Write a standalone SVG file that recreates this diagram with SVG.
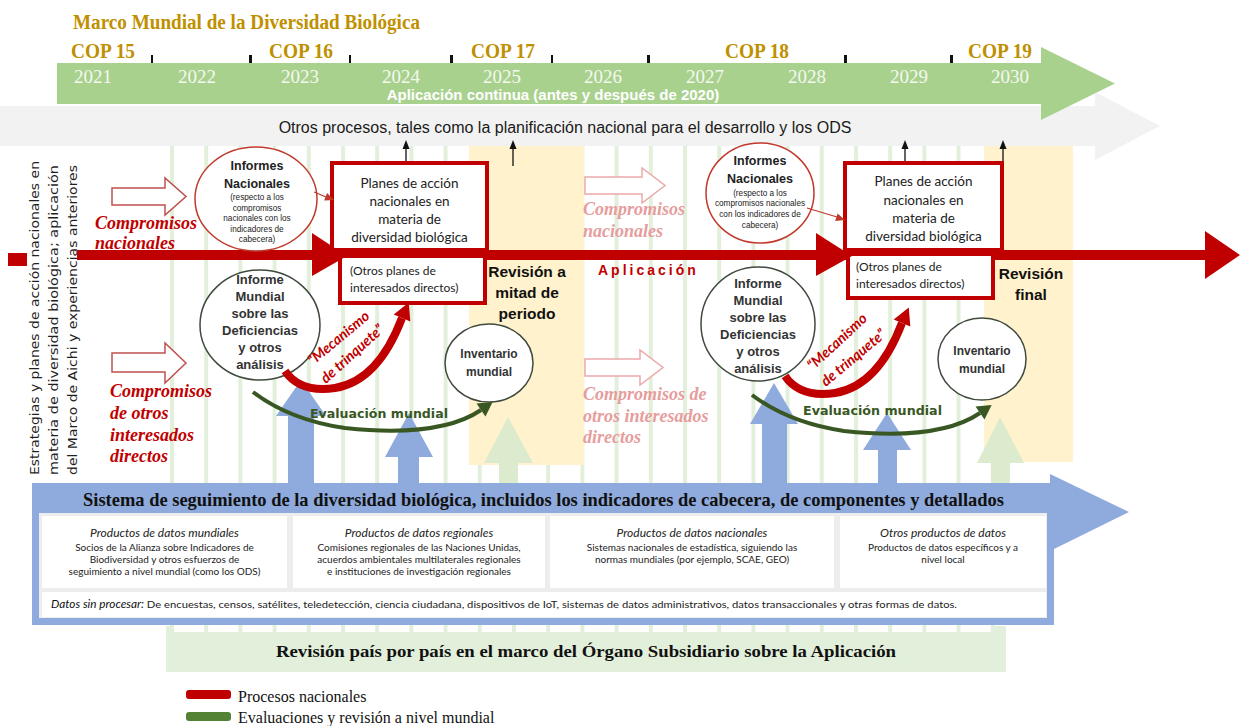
<svg xmlns="http://www.w3.org/2000/svg" width="1241" height="726" viewBox="0 0 1241 726">
<defs>
<style>
.serif{font-family:"Liberation Serif","Times New Roman",serif}
.sans{font-family:"Liberation Sans",Arial,sans-serif}
.gold{fill:#BF9000}
.cop{font-family:"Liberation Serif","Times New Roman",serif;font-weight:bold;font-size:21px;fill:#BF9000}
.year{font-family:"Liberation Serif","Times New Roman",serif;font-size:19px;fill:#F4F8F0;text-anchor:middle}
.tick{fill:#111}
.cmp{font-family:"Liberation Serif","Times New Roman",serif;font-size:18px;font-style:italic;font-weight:bold}
.red{fill:#C00000}
.pink{fill:#E69D9D}
.hollow{fill:#fff;stroke:#C0504D;stroke-width:1.5}
.hollowp{fill:#fff;stroke:#EBA9A9;stroke-width:1.5}
.circR{fill:#fff;stroke:#C0392B;stroke-width:1.5}
.circG{fill:#fff;stroke:#3F4A3C;stroke-width:1.5}
.ctitle{font-family:"Liberation Sans",Arial,sans-serif;font-weight:bold;font-size:12.5px;fill:#222;text-anchor:middle}
.csmall{font-family:"Liberation Sans",Arial,sans-serif;font-size:8.2px;fill:#222;text-anchor:middle}
.cgm{font-family:"Liberation Sans",Arial,sans-serif;font-weight:bold;font-size:13px;fill:#333;text-anchor:middle}
.inv{font-family:"Liberation Sans",Arial,sans-serif;font-weight:bold;font-size:12px;fill:#333;text-anchor:middle}
.box{fill:#fff;stroke:#C00000;stroke-width:4}
.ptxt{font-family:Lato,"Liberation Sans",sans-serif;font-size:13.5px;fill:#222;text-anchor:middle}
.otxt{font-family:Lato,"Liberation Sans",sans-serif;font-size:12px;fill:#222}
.rev{font-family:"Liberation Sans",Arial,sans-serif;font-weight:bold;font-size:15.5px;fill:#111;text-anchor:middle}
.mec{font-family:Lato,"Liberation Sans",sans-serif;font-weight:bold;font-style:italic;font-size:14.5px;fill:#C00000}
.eval{font-family:"DejaVu Sans",Verdana,sans-serif;font-weight:bold;font-size:11.5px;fill:#385723}
.blue{fill:#8FAADC}
.lgreen{fill:#DCEACE}
.dtitle{font-family:Lato,"Liberation Sans",sans-serif;font-style:italic;font-size:12px;fill:#222;text-anchor:middle}
.dtxt{font-family:Lato,"Liberation Sans",sans-serif;font-size:10px;fill:#222;text-anchor:middle}
.vert{font-family:"DejaVu Sans",Verdana,sans-serif;font-size:13px;fill:#1F1F1F}
.blk{stroke:#111;stroke-width:1.3;fill:none}
</style>
<pattern id="stripes" x="170" y="0" width="34.2" height="20" patternUnits="userSpaceOnUse"><rect width="4" height="20" fill="#E2EFDA"/></pattern>
</defs>

<rect width="1241" height="726" fill="#fff"/>

<g id="background">
<rect x="166" y="626" width="840" height="46" fill="#E2EFDA"/>
<rect x="174" y="626" width="817" height="6" fill="#fff"/>
<rect x="170" y="146" width="826" height="486" fill="url(#stripes)"/>
<rect x="469" y="146" width="115" height="319" fill="#FFF2CC"/>
<rect x="984" y="146" width="89" height="316" fill="#FFF2CC"/>
</g>

<g id="timeline">
<polygon points="0,106 1095,106 1095,92 1160,126 1095,160 1095,146 0,146" fill="#F2F2F2"/>
<polygon points="57,63 1041,63 1041,47 1115,83.5 1041,120 1041,104 57,104" fill="#A9D18E"/>
<text x="73" y="29" class="serif gold" font-size="20" font-weight="bold" textLength="347" lengthAdjust="spacingAndGlyphs">Marco Mundial de la Diversidad Biológica</text>
<text x="71" y="58" class="cop" textLength="64" lengthAdjust="spacingAndGlyphs">COP 15</text>
<text x="269" y="58" class="cop" textLength="64" lengthAdjust="spacingAndGlyphs">COP 16</text>
<text x="471" y="58" class="cop" textLength="64" lengthAdjust="spacingAndGlyphs">COP 17</text>
<text x="725" y="58" class="cop" textLength="64" lengthAdjust="spacingAndGlyphs">COP 18</text>
<text x="968" y="58" class="cop" textLength="64" lengthAdjust="spacingAndGlyphs">COP 19</text>
<rect class="tick" x="151" y="55" width="2" height="8"/>
<rect class="tick" x="249" y="55" width="3" height="8"/>
<rect class="tick" x="349" y="55" width="2" height="8"/>
<rect class="tick" x="450" y="55" width="3" height="8"/>
<rect class="tick" x="551" y="55" width="2" height="8"/>
<rect class="tick" x="647" y="55" width="3" height="8"/>
<rect class="tick" x="844" y="55" width="3" height="8"/>
<rect class="tick" x="950" y="55" width="3" height="8"/>
<text class="year" x="93" y="83">2021</text>
<text class="year" x="197" y="83">2022</text>
<text class="year" x="300" y="83">2023</text>
<text class="year" x="401" y="83">2024</text>
<text class="year" x="502" y="83">2025</text>
<text class="year" x="603" y="83">2026</text>
<text class="year" x="705" y="83">2027</text>
<text class="year" x="807" y="83">2028</text>
<text class="year" x="909" y="83">2029</text>
<text class="year" x="1010" y="83">2030</text>
<text x="553" y="100" class="sans" font-size="15" font-weight="bold" fill="#fff" text-anchor="middle">Aplicación continua (antes y después de 2020)</text>
<text x="565" y="133" class="sans" font-size="16" fill="#1a1a1a" text-anchor="middle">Otros procesos, tales como la planificación nacional para el desarrollo y los ODS</text>
</g>

<g id="left-label">
<rect x="8" y="253" width="19" height="13" fill="#C00000"/>
<text class="vert" transform="translate(39 475) rotate(-90)" textLength="314" lengthAdjust="spacingAndGlyphs">Estrategias y planes de acción nacionales en</text>
<text class="vert" transform="translate(58 475) rotate(-90)" textLength="310" lengthAdjust="spacingAndGlyphs">materia de diversidad biológica; aplicación</text>
<text class="vert" transform="translate(77 475) rotate(-90)" textLength="310" lengthAdjust="spacingAndGlyphs">del Marco de Aichi y experiencias anteriores</text>
</g>

<g id="connectors">
<line class="blk" x1="406" y1="163" x2="406" y2="148"/><polygon points="402.5,149 406,140 409.5,149" fill="#111"/>
<line class="blk" x1="513" y1="166" x2="513" y2="148"/><polygon points="509.5,149 513,140 516.5,149" fill="#111"/>
<line class="blk" x1="905" y1="163" x2="905" y2="148"/><polygon points="901.5,149 905,140 908.5,149" fill="#111"/>
<line class="blk" x1="1003" y1="163" x2="1003" y2="148"/><polygon points="999.5,149 1003,140 1006.5,149" fill="#111"/>
<rect x="77" y="250" width="1130" height="10" fill="#C00000"/>
<polygon points="1205,231 1240,255 1205,279" fill="#C00000"/>
<path class="hollow" d="M112,188 H165 V178 L186,196.5 L165,215 V205 H112 Z"/>
<path class="hollow" d="M112,353 H165 V343 L186,363 L165,383 V372 H112 Z"/>
<path class="hollowp" d="M585,177 H642 V168 L665,185.5 L642,203 V194 H585 Z"/>
<path class="hollowp" d="M585,359 H640 V350 L663,367.5 L640,385 V376 H585 Z"/>
<polygon class="blue" points="288,483 288,416 276,416 301,380 326,416 314,416 314,483"/>
<polygon class="blue" points="398,483 398,457 385,457 409,413 433,457 419,457 419,483"/>
<polygon class="lgreen" points="499,483 499,463 484,463 508,417 533,463 518,463 518,483"/>
<polygon class="blue" points="762,483 762,424 750,424 774,383 798,424 787,424 787,483"/>
<polygon class="blue" points="878,483 878,450 863,450 887,413 911,450 897,450 897,483"/>
<polygon class="lgreen" points="991,483 991,463 977,463 1000,417 1024,463 1010,463 1010,483"/>
</g>

<g id="commitments">
<text class="cmp red" x="95" y="229">Compromisos</text>
<text class="cmp red" x="95" y="249">nacionales</text>
<text class="cmp red" x="110" y="397">Compromisos</text>
<text class="cmp red" x="110" y="419">de otros</text>
<text class="cmp red" x="110" y="441">interesados</text>
<text class="cmp red" x="110" y="462">directos</text>
<text class="cmp pink" x="583" y="215">Compromisos</text>
<text class="cmp pink" x="583" y="237">nacionales</text>
<text class="cmp pink" x="583" y="400">Compromisos de</text>
<text class="cmp pink" x="583" y="422">otros interesados</text>
<text class="cmp pink" x="583" y="443">directos</text>
<text x="598" y="275" class="sans" font-size="14" font-weight="bold" fill="#C00000" letter-spacing="3">Aplicación</text>
</g>

<g id="informes-nacionales-1">
<ellipse class="circR" cx="256" cy="199" rx="61" ry="52"/>
<text class="ctitle" x="257" y="170">Informes</text>
<text class="ctitle" x="257" y="188">Nacionales</text>
<text class="csmall" x="257" y="200">(respecto a los</text>
<text class="csmall" x="257" y="210.5">compromisos</text>
<text class="csmall" x="257" y="221">nacionales con los</text>
<text class="csmall" x="257" y="231.5">indicadores de</text>
<text class="csmall" x="257" y="242">cabecera)</text>
</g>

<g id="informes-nacionales-2">
<ellipse class="circR" cx="760" cy="193" rx="54" ry="50"/>
<text class="ctitle" x="760" y="165">Informes</text>
<text class="ctitle" x="760" y="183">Nacionales</text>
<text class="csmall" x="760" y="196">(respecto a los</text>
<text class="csmall" x="760" y="206">compromisos nacionales</text>
<text class="csmall" x="760" y="217">con los indicadores de</text>
<text class="csmall" x="760" y="228">cabecera)</text>
</g>

<g id="informe-mundial-1">
<ellipse class="circG" cx="260" cy="325" rx="60" ry="55"/>
<text class="cgm" x="260" y="284">Informe</text>
<text class="cgm" x="260" y="301">Mundial</text>
<text class="cgm" x="260" y="318">sobre las</text>
<text class="cgm" x="260" y="335">Deficiencias</text>
<text class="cgm" x="260" y="352">y otros</text>
<text class="cgm" x="260" y="369">análisis</text>
</g>

<g id="informe-mundial-2">
<ellipse class="circG" cx="758" cy="324" rx="57" ry="57"/>
<text class="cgm" x="758" y="288">Informe</text>
<text class="cgm" x="758" y="305">Mundial</text>
<text class="cgm" x="758" y="322">sobre las</text>
<text class="cgm" x="758" y="339">Deficiencias</text>
<text class="cgm" x="758" y="356">y otros</text>
<text class="cgm" x="758" y="373">análisis</text>
</g>

<g id="inventario-1">
<ellipse class="circG" cx="489" cy="363" rx="44" ry="39"/>
<text class="inv" x="489" y="358">Inventario</text>
<text class="inv" x="489" y="376">mundial</text>
</g>

<g id="inventario-2">
<ellipse class="circG" cx="982" cy="359" rx="44" ry="41"/>
<text class="inv" x="982" y="355">Inventario</text>
<text class="inv" x="982" y="373">mundial</text>
</g>

<g id="planes-1">
<rect class="box" x="332" y="163" width="155" height="87"/>
<rect class="box" x="340" y="256" width="145" height="47"/>
<text class="ptxt" x="409.5" y="188">Planes de acción</text>
<text class="ptxt" x="409.5" y="206">nacionales en</text>
<text class="ptxt" x="409.5" y="224">materia de</text>
<text class="ptxt" x="409.5" y="242">diversidad biológica</text>
<text class="otxt" x="350" y="275">(Otros planes de</text>
<text class="otxt" x="350" y="292">interesados directos)</text>
</g>

<g id="planes-2">
<rect class="box" x="845" y="163" width="157" height="87"/>
<rect class="box" x="848" y="254" width="145" height="44"/>
<text class="ptxt" x="923.5" y="186">Planes de acción</text>
<text class="ptxt" x="923.5" y="205">nacionales en</text>
<text class="ptxt" x="923.5" y="223">materia de</text>
<text class="ptxt" x="923.5" y="241">diversidad biológica</text>
<text class="otxt" x="856" y="271">(Otros planes de</text>
<text class="otxt" x="856" y="288">interesados directos)</text>
</g>

<g id="connectors-2">
<polygon points="312,233 347,256 312,276" fill="#C00000"/>
<polygon points="816,233 852,256 816,276" fill="#C00000"/>
<line x1="314" y1="192" x2="326" y2="197" stroke="#C0392B" stroke-width="1.3"/>
<polygon points="334,200 324.1,200.4 327.1,193" fill="#C0392B"/>
<line x1="807" y1="208" x2="837" y2="217" stroke="#C0392B" stroke-width="1.3"/>
<polygon points="845,220 835.2,221.1 837.6,213.5" fill="#C0392B"/>
<path d="M285,371 Q300,393 335,388 Q378,381 402,318" fill="none" stroke="#C00000" stroke-width="8"/>
<polygon points="408.8,302.4 410.3,321.6 393.7,314.4" fill="#C00000"/>
<path d="M785,376 Q800,398 835,393 Q878,386 902,323" fill="none" stroke="#C00000" stroke-width="8"/>
<polygon points="908.8,307.4 910.3,326.6 893.7,319.4" fill="#C00000"/>
<path d="M253,392 Q290,420 345,428 Q440,438 481,410" fill="none" stroke="#385723" stroke-width="4"/>
<polygon points="492.6,402.1 485.5,416.6 476.5,403.4" fill="#385723"/>
<path d="M752,395 Q789,423 844,431 Q939,441 980,413" fill="none" stroke="#385723" stroke-width="4"/>
<polygon points="991.6,405.1 984.5,419.6 975.5,406.4" fill="#385723"/>
</g>

<g id="labels">
<text class="mec" transform="translate(313 366) rotate(-40)">“Mecanismo</text>
<text class="mec" transform="translate(326 384) rotate(-42)">de trinquete”</text>
<text class="mec" transform="translate(813 371) rotate(-43)">“Mecanismo</text>
<text class="mec" transform="translate(826 387) rotate(-40)">de trinquete”</text>
<text class="eval" x="310" y="418" textLength="138" lengthAdjust="spacingAndGlyphs">Evaluación mundial</text>
<text class="eval" x="803" y="415" textLength="139" lengthAdjust="spacingAndGlyphs">Evaluación mundial</text>
<text class="rev" x="527" y="277">Revisión a</text>
<text class="rev" x="527" y="298">mitad de</text>
<text class="rev" x="527" y="319">periodo</text>
<text class="rev" x="1031" y="279">Revisión</text>
<text class="rev" x="1031" y="300">final</text>
</g>

<g id="monitoring-system">
<rect x="32" y="483" width="1022" height="142" fill="#8FAADC"/>
<polygon points="1050,474 1129,512 1050,551" fill="#8FAADC"/>
<rect x="39" y="513" width="1008" height="105" fill="#EDEDED"/>
<text x="543.5" y="506" class="serif" font-size="19" font-weight="bold" fill="#111" text-anchor="middle" textLength="921" lengthAdjust="spacingAndGlyphs">Sistema de seguimiento de la diversidad biológica, incluidos los indicadores de cabecera, de componentes y detallados</text>
<rect x="42" y="516" width="245" height="72" fill="#fff"/>
<rect x="293" y="516" width="252" height="72" fill="#fff"/>
<rect x="550" y="516" width="284" height="72" fill="#fff"/>
<rect x="840" y="516" width="206" height="72" fill="#fff"/>
<rect x="42" y="592" width="1004" height="25" fill="#fff"/>
<text class="dtitle" x="164.5" y="537">Productos de datos mundiales</text>
<text class="dtxt" x="164.5" y="551">Socios de la Alianza sobre Indicadores de</text>
<text class="dtxt" x="164.5" y="563">Biodiversidad y otros esfuerzos de</text>
<text class="dtxt" x="164.5" y="575">seguimiento a nivel mundial (como los ODS)</text>
<text class="dtitle" x="419" y="537">Productos de datos regionales</text>
<text class="dtxt" x="419" y="551">Comisiones regionales de las Naciones Unidas,</text>
<text class="dtxt" x="419" y="563">acuerdos ambientales multilaterales regionales</text>
<text class="dtxt" x="419" y="575">e instituciones de investigación regionales</text>
<text class="dtitle" x="692" y="537">Productos de datos nacionales</text>
<text class="dtxt" x="692" y="551">Sistemas nacionales de estadística, siguiendo las</text>
<text class="dtxt" x="692" y="563">normas mundiales (por ejemplo, SCAE, GEO)</text>
<text class="dtitle" x="943" y="537">Otros productos de datos</text>
<text class="dtxt" x="943" y="551">Productos de datos específicos y a</text>
<text class="dtxt" x="943" y="563">nivel local</text>
<text x="51" y="608" font-family="Lato, 'Liberation Sans', sans-serif" font-size="10" fill="#222" textLength="906" lengthAdjust="spacingAndGlyphs"><tspan font-style="italic" font-size="10.5" fill="#111">Datos sin procesar:</tspan> De encuestas, censos, satélites, teledetección, ciencia ciudadana, dispositivos de IoT, sistemas de datos administrativos, datos transaccionales y otras formas de datos.</text>
</g>

<g id="country-review">
<text x="586" y="657" class="serif" font-size="17" font-weight="bold" fill="#111" text-anchor="middle" textLength="620" lengthAdjust="spacingAndGlyphs">Revisión país por país en el marco del Órgano Subsidiario sobre la Aplicación</text>
</g>

<g id="legend">
<rect x="186" y="690" width="45" height="9" rx="3" fill="#C00000"/>
<rect x="186" y="712" width="45" height="9" rx="3" fill="#548235"/>
<text x="238" y="702" class="serif" font-size="16" fill="#111">Procesos nacionales</text>
<text x="238" y="723" class="serif" font-size="16" fill="#111">Evaluaciones y revisión a nivel mundial</text>
</g>
</svg>
